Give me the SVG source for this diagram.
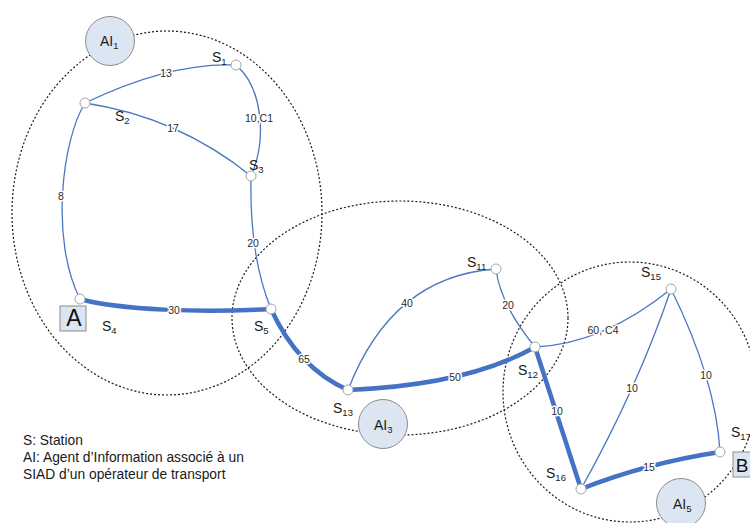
<svg xmlns="http://www.w3.org/2000/svg" width="750" height="523" viewBox="0 0 750 523">
<style>
.zone{fill:none;stroke:#1a1a1a;stroke-width:1.2;stroke-dasharray:2,2}
.e{fill:none;stroke:#4a78c0;stroke-width:1.3}
.t{fill:none;stroke:#4472c4;stroke-width:4.5;stroke-linecap:round}
.st{fill:#ffffff;stroke:#a6a6a6;stroke-width:1}
.ai{fill:#dce6f2;stroke:#8c8c8c;stroke-width:1}
.box{fill:#dce6f2;stroke:#8c8c8c;stroke-width:1}
.lbl{font-family:"Liberation Sans",Arial,sans-serif;font-size:14px;fill:#1a1a1a}
.sub{font-size:9.5px}
.el{font-family:"Liberation Sans",Arial,sans-serif;font-size:10.5px;fill:#2a2a2a;text-anchor:middle;paint-order:stroke;stroke:#ffffff;stroke-width:3px;stroke-linejoin:round}
.big{font-family:"Liberation Sans",Arial,sans-serif;font-size:23px;fill:#111;text-anchor:middle}
.leg{font-family:"Liberation Sans",Arial,sans-serif;font-size:13.8px;fill:#1a1a1a}
</style>
<rect width="750" height="523" fill="#ffffff"/>
<g id="zones">
<ellipse class="zone" cx="167" cy="213" rx="155" ry="182"/>
<ellipse class="zone" cx="400" cy="318" rx="168" ry="117"/>
<ellipse class="zone" cx="630" cy="392" rx="127" ry="130"/>
</g>
<g id="connectors">
<path class="e" d="M85,103 Q170,62 236,65"/>
<path class="e" d="M85,103 Q178,117 251,176"/>
<path class="e" d="M236,65 C263,88 267,140 251,176"/>
<path class="e" d="M85,103 C62,140 50,240 80,299"/>
<path class="e" d="M251,176 C250,220 255,270 271,309"/>
<path class="t" d="M80,299 C120,310 200,313 271,309"/>
<path class="t" d="M271,309 Q298,368 348,390"/>
<path class="e" d="M348,390 Q392,276 496,269"/>
<path class="e" d="M496,269 Q500,304 535,347"/>
<path class="t" d="M348,390 Q468,385 535,347"/>
<path class="e" d="M535,347 Q603,344 671,289"/>
<path class="t" d="M535,347 L581,489"/>
<path class="e" d="M581,489 Q638,387 671,289"/>
<path class="e" d="M671,289 Q716,380 720,452"/>
<path class="t" d="M581,489 Q647,463 720,452"/>
<text class="el" x="166" y="77">13</text>
<text class="el" x="173" y="132">17</text>
<text class="el" x="259" y="122">10,C1</text>
<text class="el" x="61" y="200">8</text>
<text class="el" x="253" y="247">20</text>
<text class="el" x="174" y="314">30</text>
<text class="el" x="304" y="363">65</text>
<text class="el" x="407" y="307">40</text>
<text class="el" x="508" y="309">20</text>
<text class="el" x="455" y="381">50</text>
<text class="el" x="603" y="334">60, C4</text>
<text class="el" x="557" y="415">10</text>
<text class="el" x="632" y="392">10</text>
<text class="el" x="706" y="379">10</text>
<text class="el" x="649" y="471">15</text>
</g>
<g id="S1"><circle class="st" cx="236" cy="65" r="5"/><text class="lbl" x="212" y="62">S<tspan class="sub" dy="3">1</tspan></text></g>
<g id="S2"><circle class="st" cx="85" cy="103" r="5"/><text class="lbl" x="115" y="121">S<tspan class="sub" dy="3">2</tspan></text></g>
<g id="S3"><circle class="st" cx="251" cy="176" r="5"/><text class="lbl" x="249" y="170">S<tspan class="sub" dy="3">3</tspan></text></g>
<g id="S4"><circle class="st" cx="80" cy="299" r="5"/><text class="lbl" x="102" y="331">S<tspan class="sub" dy="3">4</tspan></text></g>
<g id="S5"><circle class="st" cx="271" cy="309" r="5"/><text class="lbl" x="254" y="331">S<tspan class="sub" dy="3">5</tspan></text></g>
<g id="S11"><circle class="st" cx="496" cy="269" r="5"/><text class="lbl" x="467" y="267">S<tspan class="sub" dy="3">11</tspan></text></g>
<g id="S12"><circle class="st" cx="535" cy="347" r="5"/><text class="lbl" x="518" y="375">S<tspan class="sub" dy="3">12</tspan></text></g>
<g id="S13"><circle class="st" cx="348" cy="390" r="5"/><text class="lbl" x="333" y="413">S<tspan class="sub" dy="3">13</tspan></text></g>
<g id="S15"><circle class="st" cx="671" cy="289" r="5"/><text class="lbl" x="641" y="277">S<tspan class="sub" dy="3">15</tspan></text></g>
<g id="S16"><circle class="st" cx="581" cy="489" r="5"/><text class="lbl" x="546" y="478">S<tspan class="sub" dy="3">16</tspan></text></g>
<g id="S17"><circle class="st" cx="720" cy="452" r="5"/><text class="lbl" x="731" y="437">S<tspan class="sub" dy="3">17</tspan></text></g>
<g id="AI1"><circle class="ai" cx="110" cy="41" r="24.5"/><text class="lbl" x="100" y="46">AI<tspan class="sub" dy="3">1</tspan></text></g>
<g id="AI3"><circle class="ai" cx="383" cy="424" r="24.5"/><text class="lbl" x="374" y="430">AI<tspan class="sub" dy="3">3</tspan></text></g>
<g id="AI5"><circle class="ai" cx="681" cy="503" r="24.5"/><text class="lbl" x="673" y="509">AI<tspan class="sub" dy="3">5</tspan></text></g>
<g id="A"><rect class="box" x="60" y="306" width="26" height="25"/><text class="big" x="74" y="326">A</text></g>
<g id="B"><rect class="box" x="733" y="452" width="26" height="25"/><text class="big" x="742" y="472" style="font-size:19px">B</text></g>
<g id="legend">
<text class="leg" x="23" y="445">S: Station</text>
<text class="leg" x="23" y="462">AI: Agent d’Information associé à un</text>
<text class="leg" x="23" y="479">SIAD d’un opérateur de transport</text>
</g>
</svg>
